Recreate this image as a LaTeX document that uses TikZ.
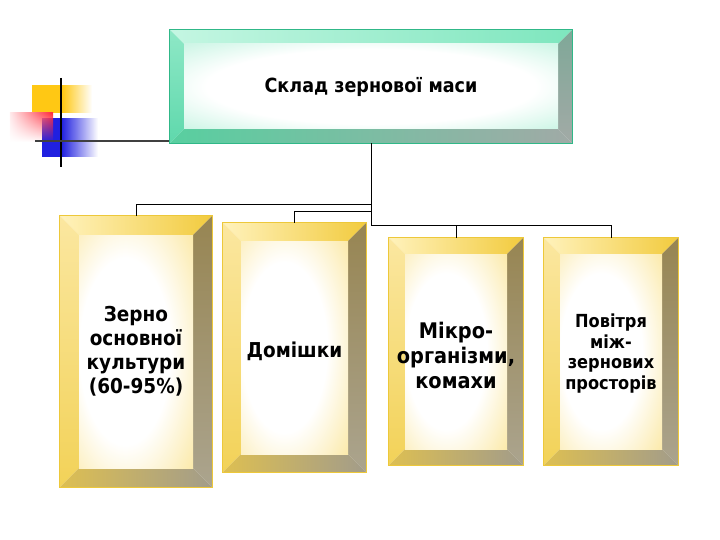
\documentclass[tikz,border=0pt]{standalone}
\usepackage{fontspec}
\setmainfont{DejaVu Sans}[FakeStretch=0.9]
\usetikzlibrary{calc,fadings}
\definecolor{Yface}{HTML}{F7D24C}
\definecolor{Gface}{HTML}{6FE3B6}
\definecolor{YtopA}{HTML}{FFF2BC}
\definecolor{YtopB}{HTML}{F2CB3E}
\definecolor{YleftA}{HTML}{FBE7A0}
\definecolor{YleftB}{HTML}{F2D258}
\definecolor{YrightA}{HTML}{978552}
\definecolor{YrightB}{HTML}{ABA48E}
\definecolor{YbotA}{HTML}{DDBF52}
\definecolor{YbotB}{HTML}{A29C8A}
\definecolor{Yline}{HTML}{EDC83A}
\definecolor{GtopA}{HTML}{C4F6E2}
\definecolor{GtopB}{HTML}{7EE6BE}
\definecolor{GleftA}{HTML}{8EE8C6}
\definecolor{GleftB}{HTML}{5FD8AC}
\definecolor{GrightA}{HTML}{7FA898}
\definecolor{GrightB}{HTML}{A2AAA6}
\definecolor{GbotA}{HTML}{58CFA0}
\definecolor{GbotB}{HTML}{A0AAA6}
\definecolor{Gline}{HTML}{30B888}
\definecolor{logoY}{HTML}{FFC814}
\definecolor{logoB}{HTML}{2020E0}
\definecolor{logoR}{HTML}{FF2A3A}
\pgfdeclareradialshading{Yfaceshade}{\pgfpoint{-6bp}{0bp}}{color(0bp)=(white); color(20bp)=(white); color(58bp)=(Yface); color(100bp)=(Yface)}
\pgfdeclareradialshading{Gfaceshade}{\pgfpoint{0bp}{0bp}}{color(0bp)=(white); color(22bp)=(white); color(60bp)=(Gface); color(100bp)=(Gface)}
\newcommand\bevbox[9]{%
  \node[inner sep=0pt, minimum width={#4-#2}, minimum height={#5-#3}] (#1) at ({(#2+#4)/2},{(#3+#5)/2}) {};
  \shade[left color=#7topA, right color=#7topB] (#2,#3) -- (#4,#3) -- (#4-#6,#3+#6) -- (#2+#6,#3+#6) -- cycle;
  \shade[top color=#7leftA, bottom color=#7leftB] (#2,#3) -- (#2+#6,#3+#6) -- (#2+#6,#5-#6) -- (#2,#5) -- cycle;
  \shade[top color=#7rightA, bottom color=#7rightB] (#4,#3) -- (#4,#5) -- (#4-#6,#5-#6) -- (#4-#6,#3+#6) -- cycle;
  \shade[left color=#7botA, right color=#7botB] (#2,#5) -- (#4,#5) -- (#4-#6,#5-#6) -- (#2+#6,#5-#6) -- cycle;
  \shade[shading=#7faceshade] (#2+#6,#3+#6) rectangle (#4-#6,#5-#6);
  \draw[#7line, line width=0.8pt] (#1.north west) rectangle (#1.south east);
  \node[boxtext, #8] (#1t) at (#1) {#9};
}
\begin{document}
\begin{tikzpicture}[x=1pt,y=-1pt,
  boxtext/.style={align=center, text=black},
  conn/.style={line width=1pt, black}]
\useasboundingbox (0,0) rectangle (720,540);
% logo
\fill[logoY] (32,85) rectangle (63,113);
\fill[logoY, path fading=east] (62.5,85) rectangle (92,113);
\fill[logoB] (42,118) rectangle (62,157);
\fill[logoB, path fading=east] (61.5,118) rectangle (98,157);
\shade[left color=logoR!10, right color=logoR, path fading=south] (10,113) rectangle (53,142);
\draw[black, line width=2pt] (61,78) -- (61,167);
\draw[black!75, line width=2.5pt] (35,141) -- (170,141);
% boxes
\bevbox{top}{170}{30}{572}{143}{14}{G}{font=\bfseries\fontsize{19.5}{23}\selectfont}{Склад зернової маси}
\bevbox{b1}{60}{216}{212}{487}{19}{Y}{font=\bfseries\fontsize{20.5}{24}\selectfont}{Зерно\\основної\\культури\\(60-95\%)}
\bevbox{b2}{223}{223}{366}{472}{18}{Y}{font=\bfseries\fontsize{20.5}{24}\selectfont, yshift=-4pt}{Домішки}
\bevbox{b3}{389}{238}{523}{465}{16}{Y}{font=\bfseries\fontsize{21.5}{25}\selectfont, yshift=-4pt}{Мікро-\\організми,\\комахи}
\bevbox{b4}{544}{238}{678}{465}{16}{Y}{font=\bfseries\fontsize{18}{20.7}\selectfont, yshift=-2pt}{Повітря\\між-\\зернових\\просторів}
% connectors
\coordinate (j1) at (371,205);
\coordinate (j2) at (371,212);
\coordinate (j3) at (371,226);
\draw[conn] (top.south) -- (j3);
\draw[conn] (j1) -| (b1.north);
\draw[conn] (j2) -| (b2.north);
\draw[conn] (j3) -| (b3.north);
\draw[conn] (j3) -| (b4.north);
\end{tikzpicture}
\end{document}
